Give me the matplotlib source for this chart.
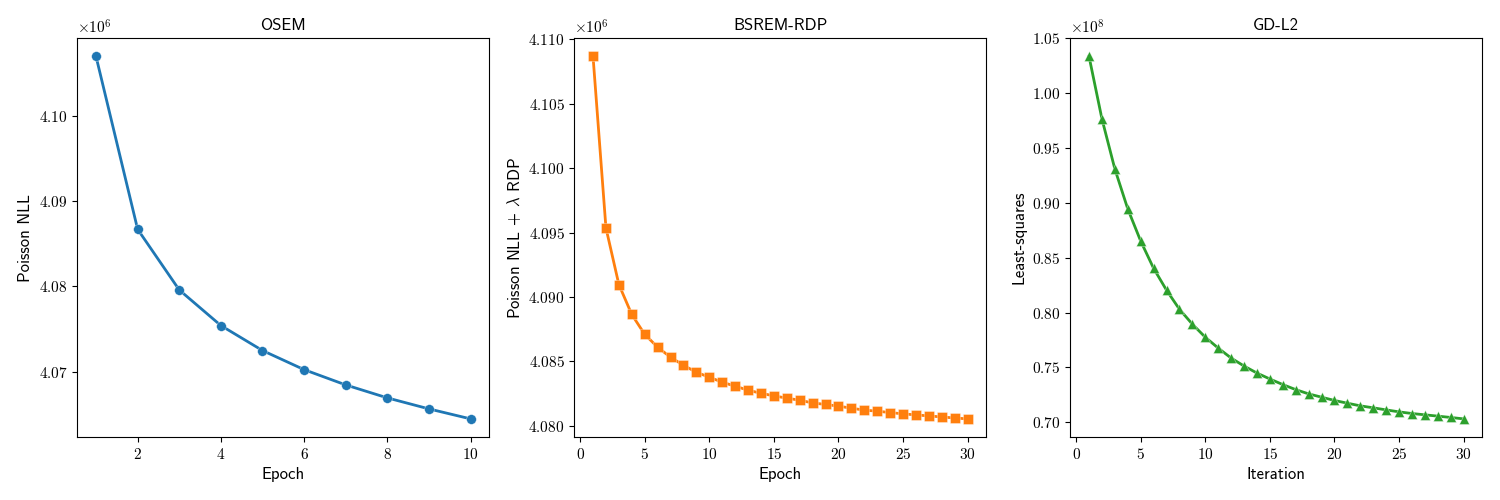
import matplotlib
matplotlib.use("Agg")
import matplotlib.pyplot as plt

plt.rcParams['font.family'] = ['cmr10']
plt.rcParams['mathtext.fontset'] = 'cm'
plt.rcParams['axes.formatter.use_mathtext'] = True
plt.rcParams['axes.unicode_minus'] = False

# ---- data ----
osem_epochs = list(range(1, 11))
osem_nll = [4.10694e6, 4.08668e6, 4.07957e6, 4.07540e6, 4.07247e6,
            4.07023e6, 4.06844e6, 4.06692e6, 4.06563e6, 4.06446e6]

bsrem_epochs = list(range(1, 31))
bsrem_obj = [4.10868e6, 4.09536e6, 4.09096e6, 4.08863e6, 4.08709e6,
             4.08609e6, 4.08531e6, 4.08469e6, 4.08414e6, 4.08376e6,
             4.08337e6, 4.08306e6, 4.08275e6, 4.08251e6, 4.08231e6,
             4.08213e6, 4.08197e6, 4.08176e6, 4.08164e6, 4.08151e6,
             4.08135e6, 4.08120e6, 4.08112e6, 4.08101e6, 4.08091e6,
             4.08083e6, 4.08075e6, 4.08067e6, 4.08059e6, 4.08052e6]

gd_iters = list(range(1, 31))
gd_ls = [1.0336e8, 0.9766e8, 0.9309e8, 0.8945e8, 0.8652e8,
         0.8403e8, 0.8204e8, 0.8030e8, 0.7894e8, 0.7775e8,
         0.7676e8, 0.7585e8, 0.7512e8, 0.7448e8, 0.7394e8,
         0.7343e8, 0.7297e8, 0.7258e8, 0.7228e8, 0.7198e8,
         0.7173e8, 0.7149e8, 0.7131e8, 0.7112e8, 0.7094e8,
         0.7079e8, 0.7067e8, 0.7055e8, 0.7043e8, 0.7030e8]

titles = ["OSEM", "BSREM-RDP", "GD-L2"]
xlabels = ["Epoch", "Epoch", "Iteration"]
ylabels = ["Poisson NLL", r"Poisson NLL + $\lambda$ RDP", "Least-squares"]
colors = ["#1f77b4", "#ff7f0e", "#2ca02c"]
markers = ["o", "s", "^"]

fig = plt.figure(figsize=(15, 5), dpi=100)
lefts = [77.3, 574.3, 1070.3]
series = [(osem_epochs, osem_nll), (bsrem_epochs, bsrem_obj), (gd_iters, gd_ls)]

for i in range(3):
    ax = fig.add_axes([lefts[i] / 1500, 63 / 500, 412 / 1500, 398.7 / 500])
    x, y = series[i]
    ax.plot(x, y, color=colors[i], marker=markers[i], linewidth=2,
            markersize=7, markeredgecolor=(1, 1, 1, 0.6), markeredgewidth=0.4)
    ax.set_title(titles[i], fontfamily='cmss10', fontsize=12)
    ax.set_xlabel(xlabels[i], fontfamily='cmss10', fontsize=12)
    ax.set_ylabel(ylabels[i], fontfamily='cmss10', fontsize=12)
    ax.tick_params(labelsize=11)
    ax.yaxis.get_offset_text().set_fontsize(11)

fig.savefig("out.png", dpi=100)
